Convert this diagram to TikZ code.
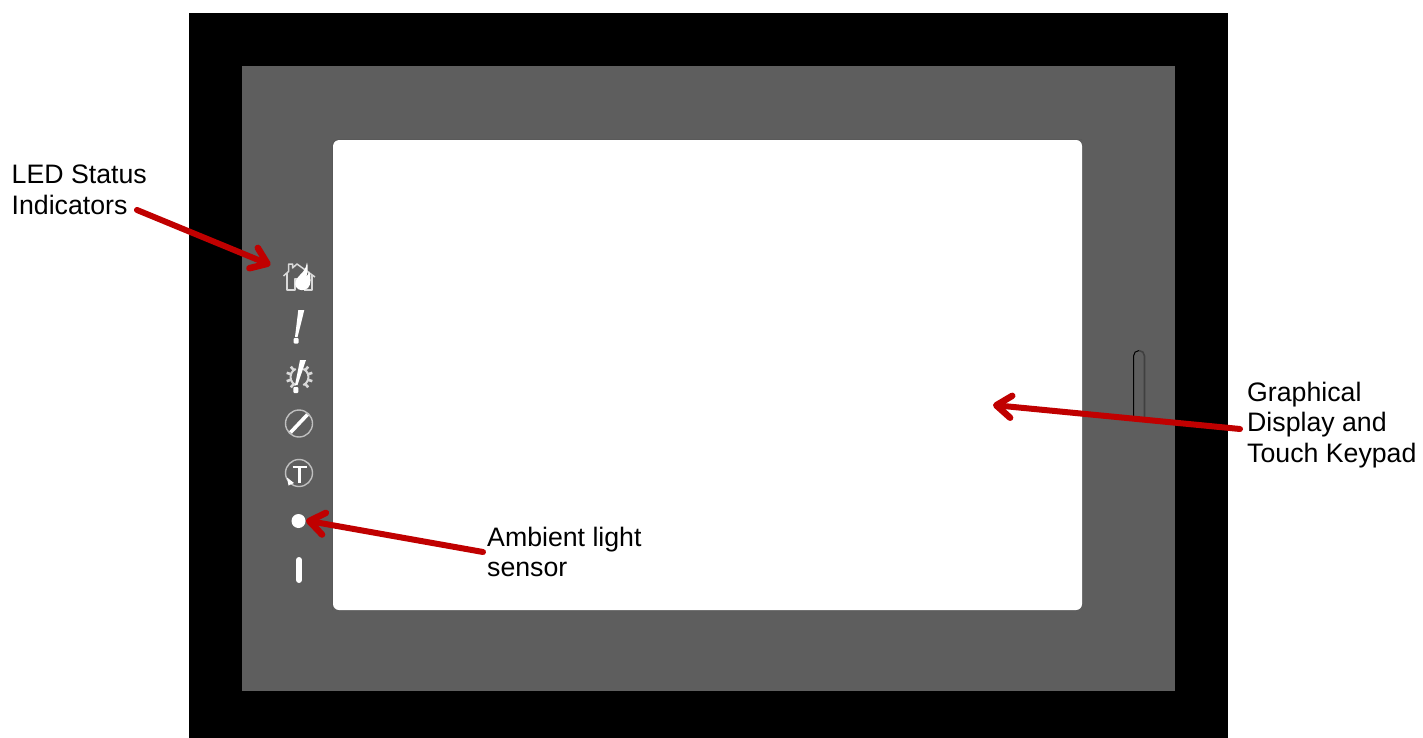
\documentclass[tikz,border=0pt]{standalone}
\usepackage{fontspec}
\setmainfont{Liberation Sans}
\usetikzlibrary{arrows.meta,calc}
\definecolor{panelgrey}{HTML}{5E5E5E}
\definecolor{callred}{HTML}{C00000}
\tikzset{
  callout/.style={anchor=north west,inner sep=0pt,align=left,font=\fontsize{26.7}{30.7}\selectfont,text=black},
  pointer/.style={draw=callred,line width=6pt,line cap=round,-{Straight Barb[length=15pt,width=22pt,line width=6.5pt,round]}},
  iconline/.style={draw=white!85!black,line width=1.5pt,line join=round},
  iconthin/.style={draw=white!75!black,line width=1.4pt},
  iconfill/.style={fill=white,draw=none}
}
\begin{document}
\begin{tikzpicture}[x=1pt,y=-1pt]
\useasboundingbox (0,0) rectangle (1423,738);
\fill[white] (0,0) rectangle (1423,738);
% bezel
\fill[black] (189,13) rectangle (1228,738);
\fill[panelgrey] (242,66) rectangle (1175,691);
% display
\fill[white,rounded corners=6pt] (333,140) rectangle (1082,610);
\draw[black!65,line width=0.8pt,rounded corners=6pt] (332.5,610) -- (332.5,139.5) -- (1082,139.5);
% slot
\draw[black,line width=1pt] (1133.5,417) -- (1133.5,356) arc[start angle=180,end angle=270,radius=5.5];
\draw[black!75,line width=1.6pt] (1139,350.5) arc[start angle=270,end angle=360,radius=5.5] -- (1144.5,417);
% house with flame
\draw[iconline] (283.5,276) -- (288.5,271.5) -- (288.5,264) -- (292.5,264) -- (292.5,268) -- (297,264) -- (315,277);
\draw[iconline] (287,273) -- (287,290) -- (295,290) -- (295,279) -- (298,279);
\draw[iconline] (312,275) -- (312,290) -- (304,290);
\fill[iconfill] (307,262.5) .. controls (306,269) and (303,272) .. (300,275) .. controls (296,279) and (294,283) .. (296,287) .. controls (298,291) and (305,291) .. (308,288) .. controls (311,285) and (311.5,277) .. (309,271) .. controls (308.5,274) and (307.5,276) .. (306.5,276) .. controls (307.5,272) and (308.5,267) .. (307,262.5) -- cycle;
% exclamation
\fill[iconfill] (298.3,310) -- (304.3,310) -- (297.6,337) -- (295,337) -- cycle;
\fill[iconfill,rounded corners=1pt] (293.5,338) rectangle (298.7,343.5);
% gear with exclamation
\foreach \a in {-50,-18,18,50}{
  \draw[iconline,line width=2.6pt] ($(299.5,377)+(\a:8)$) -- ($(299.5,377)+(\a:13.5)$);
  \draw[iconline,line width=2.6pt] ($(299.5,377)+(180-\a:8)$) -- ($(299.5,377)+(180-\a:13.5)$);
}
\draw[iconline,line width=2pt] ($(299.5,377)+(-65:9)$) arc[start angle=-65,end angle=65,radius=9];
\draw[iconline,line width=2pt] ($(299.5,377)+(115:9)$) arc[start angle=115,end angle=245,radius=9];
\fill[iconfill] (300,360) -- (306,360) -- (297.5,385) -- (295,385) -- cycle;
\fill[iconfill,rounded corners=1pt] (293.3,387) rectangle (298.3,393);
% no-entry
\draw[iconthin] (299,423.5) circle[radius=13.5];
\draw[draw=white,line width=3.6pt] (290.5,432.5) -- (307.5,414.5);
% T with arrow
\draw[iconthin] (299,473) circle[radius=13.5];
\draw[draw=white,line width=2.6pt] (292.5,467) -- (307,467);
\draw[draw=white,line width=3pt] (299.8,467) -- (299.8,483);
\fill[iconfill] (287,477.5) -- (294,483) -- (288.5,485.5) -- cycle;
% sensor
\node[circle,fill=white,inner sep=0pt,minimum size=14pt] (sensor) at (298.5,521) {};
% bar
\draw[draw=white,line width=6pt,line cap=round] (299,560) -- (299,580);
% labels
\node[callout] (led) at (11.5,164.5) {LED Status\\Indicators};
\node[callout] (disp) at (1247,381.5) {Graphical\\Display and\\Touch Keypad};
\node[callout] (amb) at (487,526.5) {Ambient light\\sensor};
% connector ends
\coordinate (ledfrom) at (137,210);
\coordinate (ledto) at (270.5,265);
\coordinate (dispfrom) at (1240,429);
\coordinate (dispto) at (993,405);
\coordinate (ambfrom) at (483,552);
\coordinate (ambto) at (306,520.5);
\draw[pointer] (ledfrom) -- (ledto);
\draw[pointer] (dispfrom) -- (dispto);
\draw[pointer] (ambfrom) -- (ambto);
\end{tikzpicture}
\end{document}
